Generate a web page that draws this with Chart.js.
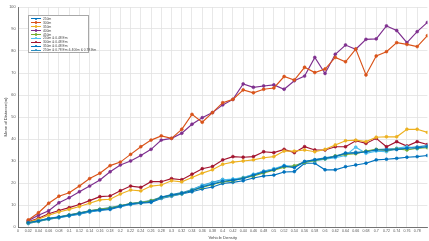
<!DOCTYPE html>
<html>
<head>
<meta charset="utf-8">
<script src="https://cdn.jsdelivr.net/npm/chart.js@4"></script>
<style>
  html, body { margin: 0; padding: 0; background: #fff; overflow: hidden; }
  #wrap { position: relative; width: 432px; height: 241px; }
  #legend {
    position: absolute; left: 28px; top: 15px; width: 61px; height: 38px;
    border: 1px solid #a8a8a8; background: #fff; box-sizing: border-box; padding-top: 1px;
    font-family: 'Liberation Sans', Arial, sans-serif; font-size: 3.3px; color: #444;
  }
  .row { height: 3.9px; display: flex; align-items: center; white-space: nowrap; }
  .swatch { position: relative; width: 10px; height: 1px; margin: 0 2px 0 2px; flex: none; }
  .swatch i { position: absolute; left: 3.8px; top: -0.9px; width: 2.4px; height: 2.4px; border-radius: 50%; }
</style>
</head>
<body>
<div id="wrap">
  <canvas id="myChart"></canvas>
  <div id="legend"></div>
</div>
<script>
// vehicle density (x) for every point
const densities = [0.02, 0.04, 0.06, 0.08, 0.1, 0.12, 0.14, 0.16, 0.18, 0.2,
  0.22, 0.24, 0.26, 0.28, 0.3, 0.32, 0.34, 0.36, 0.38, 0.4,
  0.42, 0.44, 0.46, 0.48, 0.5, 0.52, 0.54, 0.56, 0.58, 0.6,
  0.62, 0.64, 0.66, 0.68, 0.7, 0.72, 0.74, 0.76, 0.78, 0.8];

const xTickValues = [0, 0.02, 0.04, 0.06, 0.08, 0.1, 0.12, 0.14, 0.16, 0.18, 0.2,
  0.22, 0.24, 0.26, 0.28, 0.3, 0.32, 0.34, 0.36, 0.38, 0.4,
  0.42, 0.44, 0.46, 0.48, 0.5, 0.52, 0.54, 0.56, 0.58, 0.6,
  0.62, 0.64, 0.66, 0.68, 0.7, 0.72, 0.74, 0.76, 0.78];
const yTickValues = [0, 10, 20, 30, 40, 50, 60, 70, 80, 90, 100];

const seriesLabels = ['250m', '300m', '350m', '400m', '450m',
  '250m & 0.48 Em', '300m & 0.48 Em', '350m & 0.48 Em', '250m & 0.78 Em & 400m & 0.78 Em'];
const seriesColors = ['#0072BD', '#D95319', '#EDB120', '#7E2F8E', '#77AC30',
  '#4DBEEE', '#A2142F', '#0072BD', '#2E8FC0'];

const s1 = [2, 2.8, 3.8, 4.5, 5.3, 6.2, 7.2, 7.8, 8.3, 9.5,
  10.5, 11, 11.5, 13.5, 14.5, 15.3, 16.5, 18.3, 19.5, 20.8,
  21.3, 22, 23.6, 25, 26, 27.7, 27, 29.7, 30.5, 31.2,
  32, 33.5, 33.6, 34.2, 35, 35, 35.2, 35.8, 36, 36.5];
const s2 = [3.2, 6.5, 10.8, 14, 15.6, 18.6, 22, 24.4, 27.9, 29.5,
  33, 36.5, 39.5, 41.4, 40.3, 44.4, 51.2, 47.6, 52, 56.5,
  58, 62.3, 61, 62.6, 63.2, 68.4, 66.8, 72.6, 70.2, 71.8,
  77.1, 75.1, 80.9, 69.1, 77.7, 79.7, 83.8, 83, 82, 87];
const s3 = [2.2, 3.5, 5.4, 6.8, 8, 9.3, 10.8, 12.3, 12.6, 15,
  16.8, 16.4, 18.6, 19.1, 21, 20.5, 22.5, 24.5, 26, 28.5,
  29.5, 30, 30.5, 31.5, 32, 34.5, 34.5, 35, 34.2, 35.3,
  37.3, 39.2, 39.5, 38.8, 40.8, 41, 41, 44.4, 44.4, 43];
const s4 = [2.9, 5.3, 7.4, 11, 13.3, 16, 18.6, 21.4, 25.1, 28.2,
  30, 32.5, 35.3, 39.5, 40.3, 42.6, 46.7, 49.7, 52, 55.5,
  58, 65, 63.5, 64.1, 64.6, 62.6, 66.5, 68.6, 77.1, 69.8,
  78.5, 82.7, 80.8, 85.3, 85.5, 91.4, 89.3, 83.8, 88.8, 93];
const s5 = [1.9, 2.7, 3.7, 4.5, 5.4, 6.3, 7.3, 8, 8.6, 9.6,
  10.6, 11.1, 11.9, 13.4, 14.4, 15.2, 16.6, 18, 19.3, 20.5,
  21, 22.2, 23.2, 24.6, 25.8, 27.2, 27.8, 29.3, 30.2, 31,
  32.3, 33, 33.3, 34.5, 35.3, 34.8, 35.5, 35, 35.8, 36];
const s6 = [1.8, 2.6, 3.6, 4.4, 5.2, 6, 7, 7.8, 8.5, 9.5,
  10.3, 11.2, 11.8, 13.2, 14.2, 15, 16.8, 18.8, 20, 21.5,
  21.8, 22.5, 24, 25.2, 26.5, 28, 27.5, 29.3, 30, 30.8,
  31.5, 32.5, 36.3, 33.5, 34.5, 34.2, 35.8, 36.5, 35.5, 36.8];
const s7 = [2.4, 4, 6, 7.5, 8.8, 10.2, 12, 13.8, 14.1, 16.5,
  18.6, 18, 20.6, 20.6, 22, 21.5, 24, 26.5, 27.5, 30.5,
  32, 31.7, 32, 34.2, 33.8, 35.3, 33.8, 36.5, 35, 35,
  36.5, 36.5, 39.2, 38, 40.3, 36.5, 38.8, 36.8, 38.8, 37.5];
const s8 = [1.6, 2.5, 3.5, 4.2, 5, 5.8, 6.8, 7.5, 8, 9.2,
  10.2, 10.8, 11.2, 13, 14, 15, 16, 17.3, 18.2, 19.8,
  20.3, 21, 22.3, 23.2, 23.6, 25, 25.2, 29, 29, 26,
  26, 27.4, 28.2, 29, 30.5, 30.8, 31.2, 31.7, 32, 32.5];
const s9 = [2.1, 2.9, 3.9, 4.6, 5.5, 6.4, 7.4, 8.1, 8.8, 9.8,
  10.7, 11.3, 12, 13.6, 14.8, 15.6, 17, 19, 20.3, 21.6,
  21.6, 22.4, 23.8, 25.4, 26.3, 27.5, 27.6, 29.8, 30.6, 31.5,
  32.2, 33.6, 34, 34.3, 35.2, 35.4, 35.6, 36, 36.4, 37];

const allSeries = [s1, s2, s3, s4, s5, s6, s7, s8, s9];

const datasets = allSeries.map((s, i) => {
  return {
    label: seriesLabels[i],
    data: densities.map((x, j) => ({ x: x, y: s[j] })),
    borderColor: seriesColors[i],
    backgroundColor: seriesColors[i],
    pointBorderColor: seriesColors[i],
    pointBackgroundColor: seriesColors[i]
  };
});

// html legend, drawn inside the plot like the original
const legendBox = document.getElementById('legend');
seriesLabels.forEach((name, i) => {
  const row = document.createElement('div');
  row.className = 'row';
  row.innerHTML = '<span class="swatch" style="background:' + seriesColors[i] + '"><i style="background:' +
    seriesColors[i] + '"></i></span><span>' + name + '</span>';
  legendBox.appendChild(row);
});

const ctx = document.getElementById('myChart').getContext('2d');
const myChart = new Chart(ctx, {
  type: 'line',
  data: { datasets: datasets },
  options: {
    responsive: true,
    maintainAspectRatio: false,
    animation: false,
    layout: { padding: { top: 7, right: 2, left: 0, bottom: 0 } },
    plugins: {
      legend: { display: false },
      tooltip: { enabled: false }
    },
    elements: {
      line: { borderWidth: 1.15, tension: 0 },
      point: { radius: 1.45, borderWidth: 0.6 }
    },
    scales: {
      x: {
        type: 'linear',
        min: 0,
        max: 0.8,
        afterBuildTicks: (scale) => { scale.ticks = xTickValues.map(v => ({ value: v })); },
        afterFit: (scale) => { scale.height = 14; },
        grid: { color: '#e2e2e2', lineWidth: 0.8, drawTicks: false },
        border: { color: '#555', width: 0.8 },
        ticks: {
          padding: 2,
          autoSkip: false,
          maxRotation: 0,
          color: '#555',
          font: { size: 3.6, family: 'Liberation Sans' },
          callback: function(val) { return String(+val.toFixed(2)); }
        },
        title: {
          display: true,
          text: 'Vehicle Density',
          color: '#444',
          font: { size: 4.2, family: 'Liberation Sans' },
          padding: { top: 0, bottom: 1 }
        }
      },
      y: {
        min: 0,
        max: 100,
        afterBuildTicks: (scale) => { scale.ticks = yTickValues.map(v => ({ value: v })); },
        afterFit: (scale) => { scale.width = 18; },
        grid: { color: '#e2e2e2', lineWidth: 0.8, drawTicks: false },
        border: { color: '#555', width: 0.8 },
        ticks: {
          padding: 2.5,
          color: '#555',
          font: { size: 3.8, family: 'Liberation Sans' }
        },
        title: {
          display: true,
          text: 'Mean of Distance(m)',
          color: '#444',
          font: { size: 4.2, family: 'Liberation Sans' },
          padding: { top: 3, bottom: 0 }
        }
      }
    }
  }
});
</script>
</body>
</html>
